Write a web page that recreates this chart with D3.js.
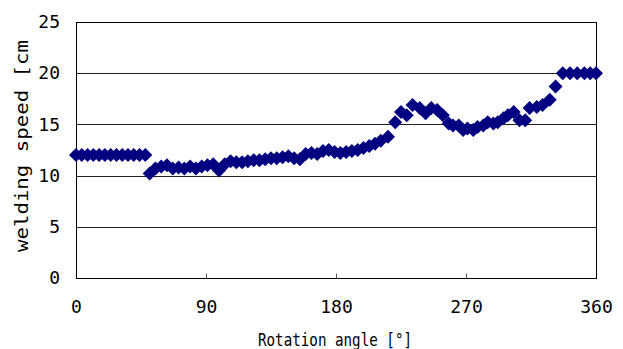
<!DOCTYPE html>
<html>
<head>
<meta charset="utf-8">
<script src="https://cdn.jsdelivr.net/npm/d3@7"></script>
<style>
  html, body { margin: 0; padding: 0; background: #fff; }
  svg { display: block; }
  text { font-family: "DejaVu Sans Mono", monospace; fill: #000; }
</style>
</head>
<body>
<div id="chart"></div>
<script>
// Rotation angle [deg] of each measurement
const angles = [
  0, 4, 8, 12, 16, 20, 24, 28, 32, 36, 40, 44, 48,
  51, 55, 59, 63, 67, 71, 75, 79, 83, 87, 91, 95, 99,
  103, 107, 111, 115, 119, 123, 127, 131, 135, 139, 143, 147, 151, 155,
  159, 163, 167, 171, 175, 179, 183, 187, 191, 195, 199, 203, 207, 211,
  216, 221, 225, 229, 233, 238, 242, 246, 250, 254, 258, 261, 265, 268,
  271, 275, 278, 282, 285, 289, 292, 296, 299, 303, 307, 311, 314, 319,
  323, 328, 332, 337, 342, 347, 352, 356, 360
];
// Welding speed measured at each angle
const speeds = [
  12, 12, 12, 12, 12, 12, 12, 12, 12, 12, 12, 12, 12,
  10.2, 10.7, 10.9, 11.0, 10.7, 10.8, 10.7, 10.9, 10.7, 10.9, 11.0, 11.1, 10.5,
  11.1, 11.4, 11.3, 11.3, 11.4, 11.5, 11.5, 11.6, 11.7, 11.7, 11.8, 11.9, 11.7, 11.6,
  12.1, 12.2, 12.1, 12.4, 12.5, 12.3, 12.2, 12.3, 12.4, 12.5, 12.7, 12.9, 13.1, 13.4,
  13.8, 15.2, 16.2, 15.9, 16.9, 16.6, 16.1, 16.6, 16.4, 15.9, 15.1, 14.9, 14.9, 14.45,
  14.6, 14.45, 14.75, 14.9, 15.2, 15.1, 15.2, 15.6, 15.9, 16.2, 15.4, 15.4, 16.6, 16.7,
  16.9, 17.4, 18.7, 20, 20, 20, 20, 20, 20
];
const xTicks = [0, 90, 180, 270, 360];
const yTicks = [0, 5, 10, 15, 20, 25];

const W = 623, H = 349;
const m = { left: 76, right: 27, top: 22, bottom: 71 };

const svg = d3.select("#chart").append("svg")
  .attr("width", W).attr("height", H);

const x = d3.scaleLinear().domain([0, 360]).range([m.left, W - m.right]);
const y = d3.scaleLinear().domain([0, 25]).range([H - m.bottom, m.top]);

// horizontal grid lines
svg.append("g")
  .selectAll("line").data(yTicks.filter(d => d > 0)).join("line")
  .attr("x1", m.left).attr("x2", W - m.right)
  .attr("y1", d => Math.round(y(d)) + 0.5).attr("y2", d => Math.round(y(d)) + 0.5)
  .attr("stroke", "#222").attr("stroke-width", 1);

// frame
svg.append("rect")
  .attr("x", m.left + 0.5).attr("y", Math.round(y(25)) + 0.5)
  .attr("width", x(360) - x(0)).attr("height", Math.round(y(0)) - Math.round(y(25)))
  .attr("fill", "none").attr("stroke", "#000").attr("stroke-width", 1);

// x axis: inward ticks, labels below
const xAxis = d3.axisBottom(x).tickValues(xTicks).tickSize(-5).tickPadding(22)
  .tickFormat(d3.format("d"));
const gx = svg.append("g")
  .attr("transform", `translate(0,${Math.round(y(0)) + 0.5})`)
  .call(xAxis);
gx.select(".domain").remove();
gx.selectAll(".tick line").attr("stroke", "#555")
  .filter(d => d === 0 || d === 360).remove();
gx.selectAll(".tick text")
  .style("font-family", "DejaVu Sans Mono, monospace")
  .style("font-size", "18px").attr("fill", "#000");

// y axis labels
const yAxis = d3.axisLeft(y).tickValues(yTicks).tickSize(0).tickPadding(16)
  .tickFormat(d3.format("d"));
const gy = svg.append("g")
  .attr("transform", `translate(${m.left},0)`)
  .call(yAxis);
gy.select(".domain").remove();
gy.selectAll(".tick text")
  .style("font-family", "DejaVu Sans Mono, monospace")
  .style("font-size", "18px").attr("fill", "#000");

// diamond markers
const r = 7;
svg.append("g")
  .selectAll("path").data(angles.map((a, i) => [a, speeds[i]])).join("path")
  .attr("transform", d => `translate(${x(d[0])},${y(d[1])})`)
  .attr("d", `M0,${-r}L${r},0L0,${r}L${-r},0Z`)
  .attr("fill", "#000080");

// axis titles
svg.append("text")
  .attr("x", 335).attr("y", 346)
  .attr("text-anchor", "middle")
  .attr("textLength", 154).attr("lengthAdjust", "spacingAndGlyphs")
  .style("font-size", "18px")
  .text("Rotation angle [°]");

svg.append("text")
  .attr("transform", "translate(28,146) rotate(-90)")
  .attr("text-anchor", "middle")
  .attr("textLength", 212).attr("lengthAdjust", "spacingAndGlyphs")
  .style("font-size", "17px")
  .text("welding speed [cm");
</script>
</body>
</html>
